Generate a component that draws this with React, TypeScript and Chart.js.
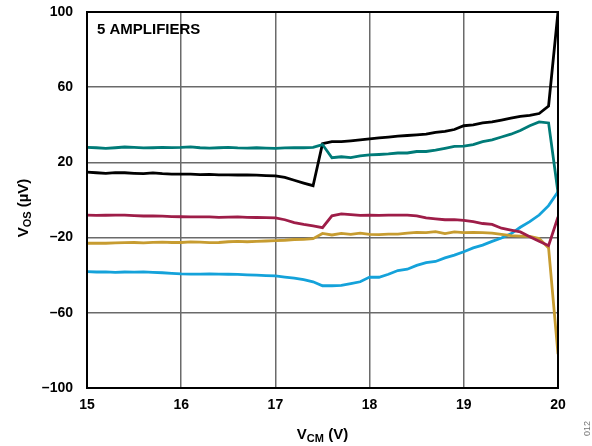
import React, { useEffect, useRef } from "react";
import { Chart, registerables } from "chart.js";

Chart.register(...registerables);

const vcm: number[] = [
  15.0, 15.1, 15.2, 15.3, 15.4, 15.5, 15.6, 15.7, 15.8, 15.9,
  16.0, 16.1, 16.2, 16.3, 16.4, 16.5, 16.6, 16.7, 16.8, 16.9,
  17.0, 17.1, 17.2, 17.3, 17.4, 17.5, 17.6, 17.7, 17.8, 17.9,
  18.0, 18.1, 18.2, 18.3, 18.4, 18.5, 18.6, 18.7, 18.8, 18.9,
  19.0, 19.1, 19.2, 19.3, 19.4, 19.5, 19.6, 19.7, 19.8, 19.9, 20.0,
];

const ampTeal: number[] = [
  28, 27.8, 27.5, 27.8, 28.2, 28, 27.7, 27.8, 28, 27.9,
  28, 28.3, 27.8, 27.6, 27.8, 28, 27.7, 27.6, 27.8, 27.6,
  27.5, 27.7, 27.8, 27.8, 28, 29.5, 22.5, 23, 22.5, 23.5,
  24, 24.2, 24.5, 25, 25, 25.8, 25.8, 26.5, 27.5, 28.5,
  28.7, 29.5, 31, 32, 33.5, 35, 37, 39.5, 41.5, 41, 4,
];

const ampBlack: number[] = [
  14.8, 14.5, 14.2, 14.6, 14.5, 14.2, 14.0, 14.4, 14.0, 13.8,
  13.8, 13.8, 13.5, 13.6, 13.4, 13.4, 13.3, 13.4, 13.2, 13.0,
  12.8, 12.0, 10.5, 9.0, 7.6, 30, 31, 31, 31.5, 32,
  32.5, 33, 33.5, 34, 34.3, 34.6, 35, 36, 36.5, 37.5,
  39.5, 40, 41, 41.5, 42.5, 43.5, 44.5, 45, 46, 50, 100,
];

const ampRed: number[] = [
  -8, -8.2, -8.1, -8, -8, -8.3, -8.5, -8.4, -8.6, -8.8,
  -8.9, -9, -9, -9, -9.2, -9.1, -9, -9.2, -9.3, -9.4,
  -9.5, -10.5, -12, -13, -13.8, -14.7, -8.4, -7.4, -7.8, -8.2,
  -8.1, -8.2, -8.0, -8.0, -8.0, -8.4, -9.5, -10, -10.5, -10.4,
  -10.8, -11.5, -12.5, -13, -15, -16, -17, -19.5, -22, -24.3, -9,
];

const ampGold: number[] = [
  -23, -22.9, -23, -22.8, -22.7, -22.6, -22.8, -22.5, -22.4, -22.6,
  -22.6, -22.3, -22.4, -22.7, -22.6, -22.2, -22, -22.2, -22, -21.8,
  -21.6, -21.4, -21, -20.9, -20.6, -17.8, -18.6, -17.8, -18.3, -17.6,
  -18.3, -18.4, -18.2, -18.1, -17.6, -17.2, -17.4, -16.8, -17.9, -17.0,
  -17.4, -17.3, -17.4, -17.6, -18.3, -19, -19.2, -19.3, -20.5, -25.5, -82,
];

const ampBlue: number[] = [
  -38.1, -38.3, -38.2, -38.5, -38.3, -38.4, -38.2, -38.5, -38.7, -39,
  -39.3, -39.4, -39.4, -39.3, -39.4, -39.5, -39.6, -39.8, -40, -40.2,
  -40.4, -41, -41.5, -42.4, -43.5, -45.6, -45.6, -45.4, -44.5, -43.5,
  -41, -41.1, -39.5, -37.5, -36.8, -34.8, -33.3, -32.7, -30.8, -29.3,
  -27.5, -25.5, -24, -22, -20.2, -18, -14.5, -11.5, -8, -3, 4.4,
];

const xTicks: number[] = [15, 16, 17, 18, 19, 20];
const yTicks: number[] = [-100, -60, -20, 20, 60, 100];

const FONT = "'Liberation Sans', Arial, sans-serif";

function toPoints(ys: number[]) {
  return vcm.map((x, i) => ({ x, y: ys[i] }));
}

function drawSubText(
  ctx: CanvasRenderingContext2D,
  parts: { t: string; sub?: boolean }[],
  size: number
) {
  let total = 0;
  const widths = parts.map((p) => {
    ctx.font = `bold ${p.sub ? Math.round(size * 0.72) : size}px ${FONT}`;
    const w = ctx.measureText(p.t).width;
    total += w;
    return w;
  });
  let x = -total / 2;
  parts.forEach((p, i) => {
    ctx.font = `bold ${p.sub ? Math.round(size * 0.72) : size}px ${FONT}`;
    ctx.fillText(p.t, x, p.sub ? size * 0.22 : 0);
    x += widths[i];
  });
}

const decorPlugin = {
  id: "decor",
  afterDraw(chart: any) {
    const { ctx, chartArea } = chart;
    const { left, right, top, bottom } = chartArea;
    ctx.save();
    ctx.strokeStyle = "#000";
    ctx.lineWidth = 2;
    ctx.strokeRect(left, top, right - left, bottom - top);

    ctx.fillStyle = "#000";
    ctx.textAlign = "left";
    ctx.textBaseline = "alphabetic";
    ctx.font = `bold 15px ${FONT}`;
    ctx.fillText("5 AMPLIFIERS", left + 10, top + 22);

    ctx.save();
    ctx.translate((left + right) / 2, 439);
    drawSubText(ctx, [{ t: "V" }, { t: "CM", sub: true }, { t: " (V)" }], 15);
    ctx.restore();

    ctx.save();
    ctx.translate(28, (top + bottom) / 2 + 8);
    ctx.rotate(-Math.PI / 2);
    drawSubText(ctx, [{ t: "V" }, { t: "OS", sub: true }, { t: " (µV)" }], 15);
    ctx.restore();

    ctx.save();
    ctx.translate(590, 436);
    ctx.rotate(-Math.PI / 2);
    ctx.fillStyle = "#777";
    ctx.font = `9px ${FONT}`;
    ctx.textAlign = "left";
    ctx.fillText("012", 0, 0);
    ctx.restore();

    ctx.restore();
  },
};

export default function App() {
  const ref = useRef<HTMLCanvasElement | null>(null);

  useEffect(() => {
    document.body.style.margin = "0";
    const canvas = ref.current;
    if (!canvas) return;
    const mk = (label: string, ys: number[], color: string) => ({
      label,
      data: toPoints(ys),
      borderColor: color,
      backgroundColor: color,
      borderWidth: 2.8,
      pointRadius: 0,
      tension: 0,
      fill: false,
    });
    const chart = new Chart(canvas, {
      type: "line",
      data: {
        datasets: [
          mk("Amp 1", ampTeal, "#007B78"),
          mk("Amp 2", ampBlack, "#000000"),
          mk("Amp 3", ampRed, "#9E1D48"),
          mk("Amp 4", ampGold, "#C79C30"),
          mk("Amp 5", ampBlue, "#14A2DA"),
        ],
      },
      options: {
        responsive: false,
        animation: false,
        events: [],
        layout: { padding: { top: 12, right: 34, left: 0, bottom: 0 } },
        plugins: {
          legend: { display: false },
          tooltip: { enabled: false },
          title: { display: false },
        },
        scales: {
          x: {
            type: "linear",
            min: 15,
            max: 20,
            afterBuildTicks: (scale: any) => {
              scale.ticks = xTicks.map((v) => ({ value: v }));
            },
            afterFit: (scale: any) => {
              scale.height = 58;
              scale.paddingLeft = 0;
              scale.paddingRight = 0;
            },
            grid: { color: "#6a6a6a", lineWidth: 1.5, drawTicks: false },
            border: { display: false },
            ticks: {
              color: "#000",
              padding: 9,
              font: { family: FONT, size: 14, weight: "bold" },
              maxRotation: 0,
              callback: (v: any) => String(v),
            },
          },
          y: {
            type: "linear",
            min: -100,
            max: 100,
            afterBuildTicks: (scale: any) => {
              scale.ticks = yTicks.map((v) => ({ value: v }));
            },
            afterFit: (scale: any) => {
              scale.width = 87;
              scale.paddingTop = 0;
              scale.paddingBottom = 0;
            },
            grid: { color: "#6a6a6a", lineWidth: 1.5, drawTicks: false },
            border: { display: false },
            ticks: {
              color: "#000",
              padding: 14,
              font: { family: FONT, size: 14, weight: "bold" },
              callback: (v: any) =>
                Number(v) < 0 ? "\u2013" + Math.abs(Number(v)) : String(v),
            },
          },
        },
      },
      plugins: [decorPlugin],
    } as any);
    return () => chart.destroy();
  }, []);

  return (
    <div style={{ width: 592, height: 446, position: "relative", background: "#fff" }}>
      <canvas ref={ref} width={592} height={446} style={{ display: "block" }} />
    </div>
  );
}
